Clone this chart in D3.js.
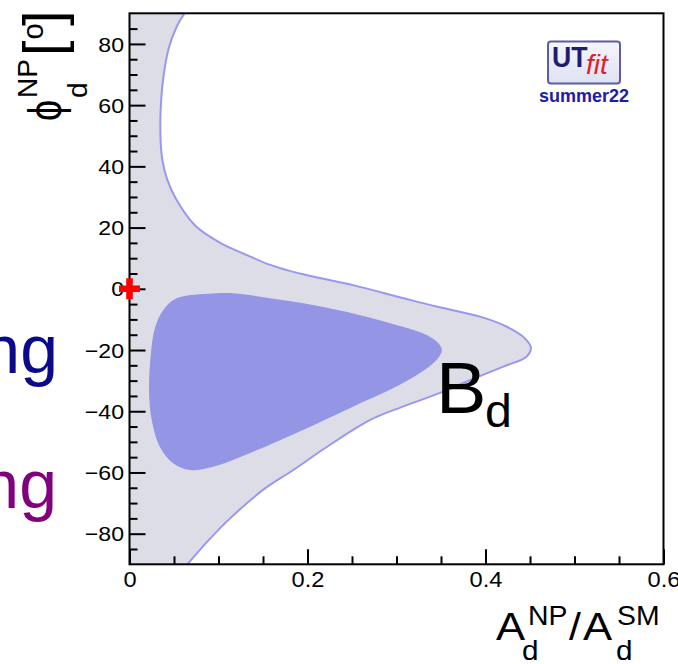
<!DOCTYPE html>
<html>
<head>
<meta charset="utf-8">
<script src="https://cdn.jsdelivr.net/npm/d3@7"></script>
<style>
  html, body { margin: 0; padding: 0; background: #fff; }
  svg { display: block; }
  text { font-family: "Liberation Sans", Arial, Helvetica, sans-serif; }
</style>
</head>
<body>
<svg id="chart" width="678" height="664"></svg>
<script>
// Allowed region for B_d mixing: A_d^NP/A_d^SM vs phi_d^NP (degrees)
// Outer (95%) contour, running from the top edge down to the bottom edge
const outerA   = [0.062, 0.053, 0.044, 0.038, 0.035, 0.035, 0.037, 0.042, 0.052, 0.074, 0.102, 0.132, 0.158, 0.177, 0.206, 0.251, 0.307, 0.345, 0.394, 0.424, 0.444, 0.451, 0.446, 0.420, 0.383, 0.349, 0.307, 0.270, 0.222, 0.184, 0.150, 0.113, 0.089, 0.065];
const outerPhi = [90, 85.6, 78.5, 69.0, 58.4, 48.0, 42.0, 36.0, 29.5, 20.6, 15.0, 11.0, 7.8, 6.1, 4.0, 1.2, -3.0, -5.8, -9.1, -12.4, -16.1, -19.3, -22.2, -25.4, -29.8, -34.0, -38.5, -42.9, -51.6, -59.2, -65.7, -75.0, -82.1, -90];
// Inner (68%) contour, closed
const innerA   = [0.094, 0.053, 0.038, 0.029, 0.024, 0.022, 0.025, 0.034, 0.049, 0.068, 0.094, 0.139, 0.195, 0.251, 0.296, 0.326, 0.345, 0.351, 0.347, 0.334, 0.307, 0.259, 0.206, 0.158, 0.120];
const innerPhi = [-1.5, -3.1, -6.9, -12.4, -21.1, -34.1, -42.9, -51.6, -57.0, -59.2, -58.1, -53.2, -46.1, -38.5, -32.5, -27.6, -23.3, -20.0, -17.8, -15.1, -12.4, -8.6, -5.3, -3.1, -1.5];
// Standard Model point
const smPoint = [0, 0];

const xMajor = [0, 0.2, 0.4, 0.6];
const xMinor = [0.05, 0.1, 0.15, 0.25, 0.3, 0.35, 0.45, 0.5, 0.55];
const yMajor = [-80, -60, -40, -20, 0, 20, 40, 60, 80];
const yMinor = d3.range(-85, 90, 5).filter(v => v % 20 !== 0 && v !== 90 && v !== -90);

const svg = d3.select("#chart");
const L = 129.5, R = 663.5, T = 13.3, B = 564.3;
const x = d3.scaleLinear().domain([0, 0.6]).range([L, R]);
const y = d3.scaleLinear().domain([-90, 90]).range([B, T]);

svg.append("clipPath").attr("id", "plotclip")
  .append("rect").attr("x", L).attr("y", T).attr("width", R - L).attr("height", B - T);

const plot = svg.append("g").attr("clip-path", "url(#plotclip)");

const outerPts = outerA.map((a, i) => [x(a), y(outerPhi[i])]);
const innerPts = innerA.map((a, i) => [x(a), y(innerPhi[i])]);
const edge = d3.line().curve(d3.curveCatmullRom.alpha(0.5));
const closed = d3.line().curve(d3.curveCatmullRomClosed.alpha(0.5));

// outer region: the strip between the left frame and the contour
plot.append("path")
  .attr("d", edge(outerPts) + `L${x(0) - 2},${y(-90) + 2}L${x(0) - 2},${y(90) - 2}Z`)
  .attr("fill", "#dddde8");
plot.append("path")
  .attr("d", closed(innerPts))
  .attr("fill", "#9595e6");
plot.append("path")
  .attr("d", edge(outerPts))
  .attr("fill", "none")
  .attr("stroke", "#9898ef")
  .attr("stroke-width", 2);

// axes with inward ticks
function styleAxis(g) {
  g.select(".domain").remove();
  g.selectAll("line").attr("stroke", "#000").attr("stroke-width", 2);
}
const yAxis = svg.append("g").attr("transform", `translate(${L},0)`)
  .call(d3.axisLeft(y).tickValues(yMajor).tickSize(-16).tickPadding(5.5).tickFormat(d3.format("d")));
styleAxis(yAxis);
yAxis.selectAll("text").attr("font-size", 21).attr("fill", "#000")
  .attr("font-family", "Liberation Sans, Arial, sans-serif")
  .attr("transform", "scale(1.1,1)").attr("x", -5).attr("dy", "0.34em");
svg.append("g").attr("transform", `translate(${L},0)`)
  .call(d3.axisLeft(y).tickValues(yMinor).tickSize(-8).tickFormat(""))
  .call(styleAxis);

const xAxis = svg.append("g").attr("transform", `translate(0,${B})`)
  .call(d3.axisBottom(x).tickValues(xMajor).tickSize(-15).tickPadding(7.5)
    .tickFormat(d => d === 0 ? "0" : d3.format(".1f")(d)));
styleAxis(xAxis);
xAxis.selectAll("text").attr("font-size", 21.5).attr("fill", "#000")
  .attr("font-family", "Liberation Sans, Arial, sans-serif")
  .attr("transform", "scale(1.1,1)");
svg.append("g").attr("transform", `translate(0,${B})`)
  .call(d3.axisBottom(x).tickValues(xMinor).tickSize(-8).tickFormat(""))
  .call(styleAxis);

// frame
svg.append("rect").attr("x", L).attr("y", T).attr("width", R - L).attr("height", B - T)
  .attr("fill", "none").attr("stroke", "#000").attr("stroke-width", 2);

// text helper: positioned glyph runs with an optional stretch
function txt(parent, str, px, py, size, opts = {}) {
  const t = parent.append("text")
    .attr("transform", `translate(${px},${py}) scale(${opts.sx || 1},${opts.sy || 1})`)
    .attr("font-size", size)
    .attr("fill", opts.fill || "#000")
    .attr("text-anchor", opts.anchor || "start")
    .text(str);
  if (opts.family) t.attr("font-family", opts.family);
  if (opts.weight) t.attr("font-weight", opts.weight);
  if (opts.style) t.attr("font-style", opts.style);
  return t;
}

// x-axis title: A_d^NP / A_d^SM
txt(svg, "A", 496, 640, 39, { sx: 1.12 });
txt(svg, "d", 522, 659.5, 27, { sx: 1.1 });
txt(svg, "NP", 528, 625, 27, { sx: 1.05 });
txt(svg, "/", 569, 640, 39, { sx: 1.1 });
txt(svg, "A", 583, 640, 39, { sx: 1.12 });
txt(svg, "d", 616, 659.5, 27, { sx: 1.1 });
txt(svg, "SM", 617, 625, 27, { sx: 1.05 });

// y-axis title: phi_d^NP [o], rotated
const yt = svg.append("g").attr("transform", "translate(62,120) rotate(-90)");
txt(yt, "\u03D5", -1, -1, 46, { sx: 0.82, family: "DejaVu Sans, sans-serif" });
txt(yt, "d", 22, 25, 28);
txt(yt, "NP", 22, -25, 28);
txt(yt, "[", 64, 0, 56);
txt(yt, "o", 80.5, -19, 29);
txt(yt, "]", 94, 0, 56);

// region label
txt(svg, "B", 436, 413, 72, { sx: 1.05 });
txt(svg, "d", 485, 427, 46, { sx: 1.05 });

// partially visible labels at the left edge
txt(svg, "ng", 58, 373, 68, { anchor: "end", fill: "#0a0a8a" });
txt(svg, "ng", 57, 508, 68, { anchor: "end", fill: "#800080" });

// UTfit badge
const defs = svg.append("defs");
const grad = defs.append("linearGradient").attr("id", "badge").attr("x1", 0).attr("y1", 0).attr("x2", 0).attr("y2", 1);
grad.append("stop").attr("offset", 0).attr("stop-color", "#f6f6fb");
grad.append("stop").attr("offset", 1).attr("stop-color", "#dde2f2");
svg.append("rect").attr("x", 548).attr("y", 41.5).attr("width", 72).attr("height", 42).attr("rx", 3)
  .attr("fill", "url(#badge)").attr("stroke", "#5c5ca8").attr("stroke-width", 2);
txt(svg, "UT", 552, 67, 29, { weight: "bold", fill: "#1e1e6e", sx: 0.92 });
txt(svg, "fit", 586, 74, 28, { style: "italic", fill: "#e0202a", family: "Liberation Serif, Times New Roman, serif" });
txt(svg, "summer22", 584, 102, 18, { anchor: "middle", weight: "bold", fill: "#1c1ca8" });

// Standard Model point marker (full cross)
const cx = x(smPoint[0]), cy = y(smPoint[1]);
const a = 10.5, w = 3.3;
svg.append("path")
  .attr("d", `M${cx - a},${cy - w}H${cx - w}V${cy - a}H${cx + w}V${cy - w}H${cx + a}V${cy + w}H${cx + w}V${cy + a}H${cx - w}V${cy + w}H${cx - a}Z`)
  .attr("fill", "#ff0000");
</script>
</body>
</html>
